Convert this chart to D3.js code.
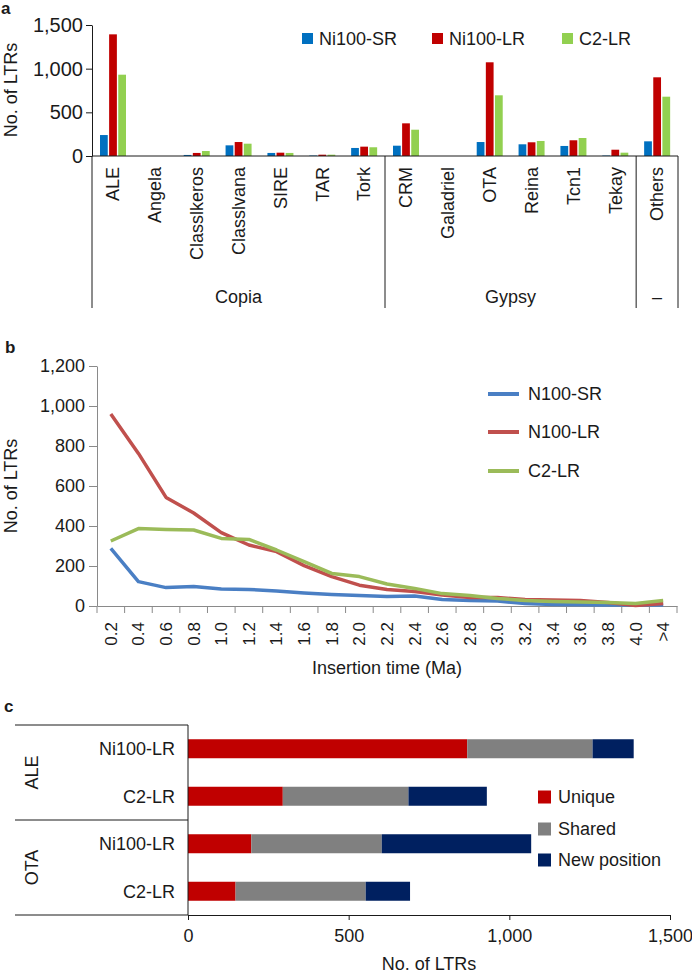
<!doctype html>
<html>
<head>
<meta charset="utf-8">
<script src="https://d3js.org/d3.v7.min.js"></script>
<style>
  body { margin: 0; background: #fff; }
  svg text { font-family: "Liberation Sans", Arial, Helvetica, sans-serif; fill: #1a1a1a; }
</style>
</head>
<body>
<script>
// ---- panel a: LTR counts per family
var categories = ["ALE", "Angela", "Classlkeros", "Classlvana", "SIRE", "TAR", "Tork",
                  "CRM", "Galadriel", "OTA", "Reina", "Tcn1", "Tekay", "Others"];
var groupLabels = ["Copia", "Gypsy", "\u2013"];
var groupFirst = ["ALE", "CRM", "Others"];
var seriesA = ["Ni100-SR", "Ni100-LR", "C2-LR"];
var ni100SR = [240, 0, 12, 122, 35, 5, 92, 118, 0, 160, 134, 115, 5, 168];
var ni100LR = [1393, 0, 35, 160, 38, 15, 107, 374, 0, 1073, 157, 180, 72, 901];
var c2LR    = [931, 0, 57, 141, 35, 15, 100, 301, 0, 695, 172, 206, 38, 679];
var ticksA = [0, 500, 1000, 1500];

// ---- panel b: insertion time
var times = ["0.2", "0.4", "0.6", "0.8", "1.0", "1.2", "1.4", "1.6", "1.8", "2.0", "2.2",
             "2.4", "2.6", "2.8", "3.0", "3.2", "3.4", "3.6", "3.8", "4.0", ">4"];
var seriesB = ["N100-SR", "N100-LR", "C2-LR"];
var timeSR = [288, 122, 92, 97, 85, 83, 75, 65, 57, 52, 47, 50, 33, 27, 25, 12, 8, 6, 5, 5, 5];
var timeLR = [960, 763, 543, 465, 367, 305, 272, 202, 147, 104, 83, 72, 55, 43, 42, 33, 30, 27, 18, 2, 13];
var timeC2 = [325, 387, 383, 380, 338, 333, 280, 222, 163, 147, 110, 88, 62, 52, 38, 28, 23, 20, 17, 13, 28];
var ticksB = [0, 200, 400, 600, 800, 1000, 1200];

// ---- panel c: unique / shared / new position
var cFamily = ["ALE", "ALE", "OTA", "OTA"];
var cSample = ["Ni100-LR", "C2-LR", "Ni100-LR", "C2-LR"];
var parts = ["Unique", "Shared", "New position"];
var unique = [869, 295, 197, 148];
var shared = [390, 391, 406, 405];
var newPos = [128, 244, 465, 138];
var ticksC = [0, 500, 1000, 1500];

var colA = ["#0070c0", "#c00000", "#92d050"];
var colB = ["#4a7fc4", "#c0504d", "#9bbb59"];
var colC = ["#c00000", "#808080", "#002060"];
var fmt = d3.format(",");

var svg = d3.select("body").append("svg").attr("width", 692).attr("height", 974);

function panelLetter(t, x, y) {
  svg.append("text").attr("x", x).attr("y", y).text(t)
    .style("font-weight", "bold").style("font-size", "17px");
}
function styleAxis(g, color, size) {
  g.selectAll("path, line").attr("stroke", color);
  g.selectAll("text").style("font-size", (size || 18) + "px").style("fill", "#1a1a1a");
}

// ================= a =================
panelLetter("a", 1, 14);
var xa = d3.scaleBand().domain(categories).range([92, 678]);
var xaSub = d3.scaleBand().domain(seriesA).range([8, 34]).paddingInner(0.15);
var ya = d3.scaleLinear().domain([0, 1500]).range([156, 25]);

var rowsA = categories.map(function(c, i) {
  return {cat: c, vals: [ni100SR[i], ni100LR[i], c2LR[i]]};
});
var ga = svg.append("g");
ga.selectAll("g.cat").data(rowsA).enter().append("g")
    .attr("transform", function(d) { return "translate(" + xa(d.cat) + ",0)"; })
  .selectAll("rect").data(function(d) { return d.vals; }).enter().append("rect")
    .attr("x", function(d, j) { return xaSub(seriesA[j]); })
    .attr("width", xaSub.bandwidth())
    .attr("y", function(d) { return ya(d); })
    .attr("height", function(d) { return ya(0) - ya(d); })
    .attr("fill", function(d, j) { return colA[j]; });

var yaxA = svg.append("g").attr("transform", "translate(92,0)")
  .call(d3.axisLeft(ya).tickValues(ticksA).tickFormat(fmt).tickSize(6).tickSizeOuter(0).tickPadding(3));
styleAxis(yaxA, "#1a1a1a", 20);

svg.append("line").attr("x1", 92).attr("x2", 678).attr("y1", ya(0)).attr("y2", ya(0))
  .attr("stroke", "#1a1a1a");
var bounds = groupFirst.map(function(c) { return xa(c); }).concat([xa.range()[1]]);
svg.selectAll("line.sep").data(bounds).enter().append("line")
  .attr("x1", function(d) { return d; }).attr("x2", function(d) { return d; })
  .attr("y1", ya(0)).attr("y2", 308).attr("stroke", "#1a1a1a");

svg.selectAll("text.cat").data(categories).enter().append("text")
  .attr("transform", function(d) { return "translate(" + (xa(d) + xa.bandwidth() / 2) + ",167) rotate(-90)"; })
  .attr("text-anchor", "end").attr("dy", "0.35em").style("font-size", "18px")
  .text(function(d) { return d; });

svg.selectAll("text.grp").data(groupLabels).enter().append("text")
  .attr("x", function(d, i) { return (bounds[i] + bounds[i + 1]) / 2; })
  .attr("y", 303).attr("text-anchor", "middle").style("font-size", "18px")
  .text(function(d) { return d; });

svg.append("text").attr("transform", "translate(17,90) rotate(-90)")
  .attr("text-anchor", "middle").style("font-size", "18px").text("No. of LTRs");

var legA = svg.append("g");
var legAx = [302, 432, 562];
seriesA.forEach(function(s, i) {
  legA.append("rect").attr("x", legAx[i]).attr("y", 33).attr("width", 11).attr("height", 11).attr("fill", colA[i]);
  legA.append("text").attr("x", legAx[i] + 17).attr("y", 39).attr("dy", "0.35em")
    .style("font-size", "18px").text(s);
});

// ================= b =================
panelLetter("b", 5, 353);
var xb = d3.scaleBand().domain(times).range([97, 677]);
var yb = d3.scaleLinear().domain([0, 1200]).range([606, 366]);

var yaxB = svg.append("g").attr("transform", "translate(97,0)")
  .call(d3.axisLeft(yb).tickValues(ticksB).tickFormat(fmt).tickSize(8).tickSizeOuter(0).tickPadding(4));
styleAxis(yaxB, "#8a8a8a");

var xaxB = svg.append("g").attr("transform", "translate(0,606)")
  .call(d3.axisBottom(xb).tickSize(0).tickSizeOuter(0));
styleAxis(xaxB, "#8a8a8a");
xaxB.selectAll("text").attr("transform", "rotate(-90)").attr("x", -16).attr("y", 0)
  .attr("dy", "0.35em").attr("text-anchor", "end").style("font-size", "17px");
var tickPosB = times.map(function(t) { return xb(t); }).concat([xb.range()[1]]);
svg.selectAll("line.tb").data(tickPosB).enter().append("line")
  .attr("x1", function(d) { return d; }).attr("x2", function(d) { return d; })
  .attr("y1", 606).attr("y2", 613).attr("stroke", "#8a8a8a");

var linesB = [timeSR, timeLR, timeC2];
var line = d3.line()
  .x(function(d, i) { return xb(times[i]) + xb.bandwidth() / 2; })
  .y(function(d) { return yb(d); });
// draw SR first, then LR, then C2 on top
linesB.forEach(function(vals, i) {
  svg.append("path").datum(vals).attr("d", line).attr("fill", "none")
    .attr("stroke", colB[i]).attr("stroke-width", 3.5).attr("stroke-linejoin", "round");
});

svg.append("text").attr("transform", "translate(17,486) rotate(-90)")
  .attr("text-anchor", "middle").style("font-size", "18px").text("No. of LTRs");
svg.append("text").attr("x", 387).attr("y", 674).attr("text-anchor", "middle")
  .style("font-size", "18px").text("Insertion time (Ma)");

var legBy = [394, 432, 471];
seriesB.forEach(function(s, i) {
  svg.append("line").attr("x1", 488).attr("x2", 519).attr("y1", legBy[i]).attr("y2", legBy[i])
    .attr("stroke", colB[i]).attr("stroke-width", 4);
  svg.append("text").attr("x", 528).attr("y", legBy[i]).attr("dy", "0.35em")
    .style("font-size", "18px").text(s);
});

// ================= c =================
panelLetter("c", 4, 712);
var xc = d3.scaleLinear().domain([0, 1500]).range([188, 670]);
var yc = d3.scaleBand().domain(d3.range(cSample.length)).range([725, 915])
  .paddingInner(0.6).paddingOuter(0.3);

var rowsC = cSample.map(function(s, i) {
  return {i: i, "Unique": unique[i], "Shared": shared[i], "New position": newPos[i]};
});
var stacked = d3.stack().keys(parts)(rowsC);
svg.append("g").selectAll("g").data(stacked).enter().append("g")
    .attr("fill", function(d, k) { return colC[k]; })
  .selectAll("rect").data(function(d) { return d; }).enter().append("rect")
    .attr("x", function(d) { return xc(d[0]); })
    .attr("width", function(d) { return xc(d[1]) - xc(d[0]); })
    .attr("y", function(d) { return yc(d.data.i); })
    .attr("height", yc.bandwidth());

var xaxC = svg.append("g").attr("transform", "translate(0,915)")
  .call(d3.axisBottom(xc).tickValues(ticksC).tickFormat(fmt).tickSize(5).tickSizeOuter(0).tickPadding(9));
styleAxis(xaxC, "#1a1a1a");

var step = yc.step();
var midC = yc(2) - step * yc.paddingInner() / 2;
[725, midC, 915].forEach(function(y) {
  svg.append("line").attr("x1", 15).attr("x2", 188).attr("y1", y).attr("y2", y).attr("stroke", "#1a1a1a");
});
svg.append("line").attr("x1", 188).attr("x2", 188).attr("y1", 725).attr("y2", 915).attr("stroke", "#1a1a1a");

svg.selectAll("text.row").data(cSample).enter().append("text")
  .attr("x", 175).attr("y", function(d, i) { return yc(i) + yc.bandwidth() / 2; })
  .attr("dy", "0.35em").attr("text-anchor", "end").style("font-size", "18px")
  .text(function(d) { return d; });

var fams = ["ALE", "OTA"];
fams.forEach(function(f) {
  var idx = d3.range(cFamily.length).filter(function(i) { return cFamily[i] === f; });
  var cy = (yc(idx[0]) + yc(idx[idx.length - 1]) + yc.bandwidth()) / 2;
  svg.append("text").attr("transform", "translate(32," + cy + ") rotate(-90)")
    .attr("text-anchor", "middle").attr("dy", "0.35em").style("font-size", "18px").text(f);
});

svg.append("text").attr("x", 429).attr("y", 970).attr("text-anchor", "middle")
  .style("font-size", "18px").text("No. of LTRs");

var legCy = [797, 829, 860];
parts.forEach(function(p, i) {
  svg.append("rect").attr("x", 538).attr("y", legCy[i] - 6.5).attr("width", 13).attr("height", 13).attr("fill", colC[i]);
  svg.append("text").attr("x", 558).attr("y", legCy[i]).attr("dy", "0.35em")
    .style("font-size", "18px").text(p);
});
</script>
</body>
</html>
